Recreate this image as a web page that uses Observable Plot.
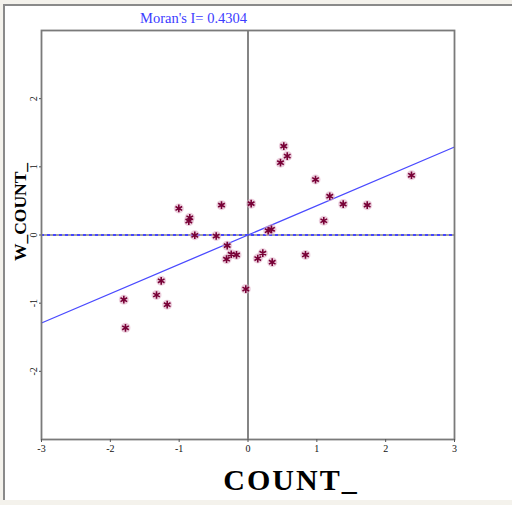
<!DOCTYPE html>
<html>
<head>
<meta charset="utf-8">
<script src="https://cdn.jsdelivr.net/npm/d3@7"></script>
<script src="https://cdn.jsdelivr.net/npm/@observablehq/plot@0.6"></script>
<style>
  html, body { margin: 0; padding: 0; }
  body { width: 512px; height: 505px; background: #f4f2ec; position: relative; overflow: hidden; }
  #panel { position: absolute; left: 3px; top: 4px; width: 509px; height: 496px; background: #fff;
           border-top: 2px solid #8a8a8a; border-left: 2px solid #8a8a8a; box-sizing: border-box; }
  #chart { position: absolute; left: 0; top: 0; }
  .lbl { position: absolute; font-family: "Liberation Serif", "DejaVu Serif", serif; white-space: nowrap; }
  #title { left: 140px; top: 10px; font-size: 14.5px; color: #3c3cff; }
  #xlab { left: 291px; top: 480px; transform: translate(-50%, -50%); font-size: 30px; font-weight: bold; letter-spacing: 2px; color: #000; }
  #ylab { left: 20px; top: 212px; transform: translate(-50%, -50%) rotate(-90deg); font-size: 17.5px; font-weight: bold; color: #000; }
</style>
</head>
<body>
<div id="panel"></div>
<div id="chart"></div>
<div class="lbl" id="title"></div>
<div class="lbl" id="xlab"></div>
<div class="lbl" id="ylab"></div>
<script>
// ---- data ----
const moranI = 0.4304;
const titleText = "Moran's I= 0.4304";
const xLabel = "COUNT_";
const yLabel = "W_COUNT_";
const xTicks = [-3, -2, -1, 0, 1, 2, 3];
const yTicks = [-2, -1, 0, 1, 2];
const countVals = [2.375, 0.52, 0.57, 0.472, 0.981, 1.188, 1.383, 1.732, 1.101, 0.046,
  -1.005, -0.385, -0.846, -0.86, -0.773, -0.462, 0.293, 0.341, -0.302, -0.244,
  -0.167, -0.312, 0.215, 0.142, 0.352, 0.835, -0.032, -1.261, -1.329, -1.804,
  -1.174, -1.78];
const wCountVals = [0.876, 1.304, 1.158, 1.061, 0.813, 0.569, 0.453, 0.438, 0.209, 0.46,
  0.39, 0.438, 0.253, 0.204, -0.004, -0.015, 0.063, 0.083, -0.156, -0.282,
  -0.292, -0.355, -0.267, -0.346, -0.399, -0.292, -0.793, -0.672, -0.88, -0.949,
  -1.022, -1.362];
const regX = [-3, 3];

const points = countVals.map((x, i) => ({x, y: wCountVals[i]}));
const regLine = regX.map(x => ({x, y: moranI * x}));

document.getElementById("title").textContent = titleText;
document.getElementById("xlab").textContent = xLabel;
document.getElementById("ylab").textContent = yLabel;

const chart = Plot.plot({
  width: 512,
  height: 505,
  marginLeft: 41,
  marginRight: 58,
  marginTop: 30,
  marginBottom: 66,
  x: {domain: [-3, 3]},
  y: {domain: [-3, 3]},
  style: {background: "transparent", fontFamily: "Liberation Serif, serif", fontSize: "10px", color: "#111"},
  marks: [
    Plot.ruleX([0], {stroke: "#333", strokeWidth: 1.2}),
    Plot.ruleY([0], {stroke: "#444", strokeWidth: 1}),
    Plot.ruleY([0], {stroke: "#4646ff", strokeWidth: 2, strokeDasharray: "3,3"}),
    Plot.line(regLine, {x: "x", y: "y", stroke: "#4a4aff", strokeWidth: 1.3}),
    Plot.dot(points, {x: "x", y: "y", r: 5, fill: "#dcaac2", fillOpacity: 0.55}),
    Plot.dot(points, {x: "x", y: "y", symbol: "asterisk", r: 3.6, stroke: "#780036", strokeWidth: 1.6}),
    Plot.frame({stroke: "#7a7a7a", strokeWidth: 1.8}),
    Plot.axisX({ticks: xTicks, tickSize: 3, tickPadding: 2, label: null, tickFormat: d => String(d), stroke: "#555"}),
    Plot.axisY({ticks: yTicks, tickSize: 2, tickPadding: 3, tickRotate: -90, label: null, tickFormat: d => String(d), stroke: "#555"})
  ]
});
document.getElementById("chart").appendChild(chart);
</script>
</body>
</html>
